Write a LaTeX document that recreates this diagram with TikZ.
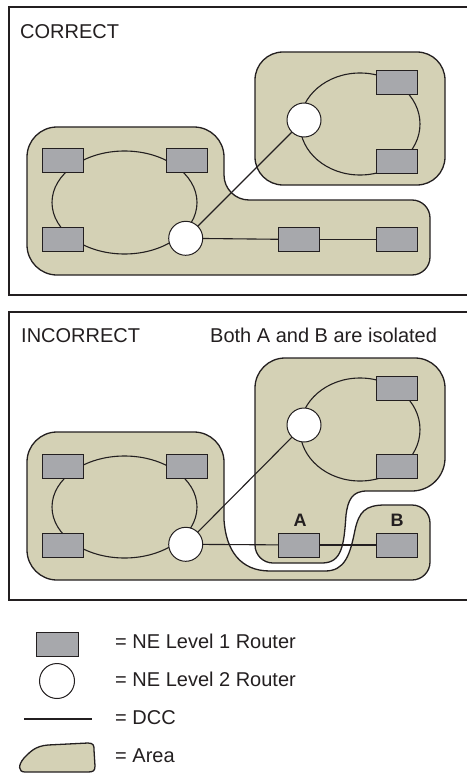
\documentclass[tikz,border=0pt]{standalone}
\usepackage{fontspec}
\setmainfont{Liberation Sans}
\definecolor{areafill}{HTML}{D4D1B5}
\definecolor{rtrgray}{HTML}{A7A8AC}
\definecolor{lineclr}{HTML}{231F20}
\tikzset{
 area/.style={fill=areafill, draw=lineclr, line width=1.3pt},
 ring/.style={draw=lineclr, line width=1.1pt},
 dcc/.style={draw=lineclr, line width=1.1pt},
 ne1/.style={draw=lineclr, fill=rtrgray, line width=1pt, minimum width=41pt, minimum height=24pt, inner sep=0pt},
 ne2/.style={circle, draw=lineclr, fill=white, line width=1pt, minimum size=34pt, inner sep=0pt},
 frame/.style={draw=lineclr, line width=2.2pt},
 lbl/.style={font=\fontsize{20}{24}\selectfont, text=lineclr, inner sep=0pt, anchor=base west},
 boldlbl/.style={font=\fontsize{18}{22}\selectfont\bfseries, text=lineclr, inner sep=0pt, anchor=base}
}
\begin{document}
\begin{tikzpicture}[x=1pt,y=-1pt]
\useasboundingbox (0,0) rectangle (466,773);
% ===== frames =====
\draw[frame] (470,7) -- (9,7) -- (9,295) -- (470,295);
\draw[frame] (470,312) -- (9,312) -- (9,600) -- (470,600);
\node[lbl] (tcorrect) at (20,39) {CORRECT};
\node[lbl] (tincorrect) at (21,342) {INCORRECT};
\node[lbl] (tiso) at (210,342) {Both A and B are isolated};

% ===== CORRECT panel =====
\path[area] (27,157) arc(180:270:30) -- (194,127) arc(270:360:30) -- (224,175)
  arc(180:90:25) -- (412,200) arc(270:360:18) -- (430,257) arc(0:90:18)
  -- (57,275) arc(90:180:30) -- cycle;
\path[area, rounded corners=28pt] (255,52) rectangle (445,185);
\draw[ring] (124.5,202.5) ellipse [x radius=72.5, y radius=51.5];
\draw[ring] (360,124) ellipse [x radius=60, y radius=51];
\node[ne1] (a1) at (62.5,160.5) {};
\node[ne1] (a2) at (186.5,160.5) {};
\node[ne1] (a3) at (62.5,239.5) {};
\node[ne2] (ac1) at (185.7,238.3) {};
\node[ne1] (a4) at (299,239.5) {};
\node[ne1] (a5) at (396.5,239.5) {};
\node[ne2] (ac2) at (304,120) {};
\node[ne1] (a6) at (396.5,82.5) {};
\node[ne1] (a7) at (396.5,161) {};
\draw[dcc] (ac1) -- (a4);
\draw[dcc] (a4) -- (a5);
\draw[dcc] (ac1) -- (ac2);

% ===== INCORRECT panel =====
\path[area] (27,462) arc(180:270:30) -- (194,432) arc(270:360:30) -- (224,520)
  .. controls (226,550) and (240,571) .. (270,571) -- (325,571)
  .. controls (345,571) and (350,555) .. (355,530)
  .. controls (359,512) and (365,505) .. (385,505)
  -- (412,505) arc(270:360:18) -- (430,562) arc(0:90:18)
  -- (57,580) arc(90:180:30) -- cycle;
\path[area] (255,388) arc(180:270:30) -- (415,358) arc(270:360:30) -- (445,458)
  arc(0:90:33) -- (367,491)
  .. controls (352,491) and (348,500) .. (346,515)
  .. controls (344,545) and (342,563) .. (322,563)
  -- (273,563) arc(90:180:18) -- cycle;
\draw[ring] (124.5,507) ellipse [x radius=72.5, y radius=51];
\draw[ring] (360,429.5) ellipse [x radius=60, y radius=51.5];
\node[ne1] (b1) at (62.5,466) {};
\node[ne1] (b2) at (186.5,466) {};
\node[ne1] (b3) at (62.5,545) {};
\node[ne2] (bc1) at (185.7,544.3) {};
\node[ne1] (bA) at (299,545) {};
\node[ne1] (bB) at (396.5,545) {};
\node[ne2] (bc2) at (304,425) {};
\node[ne1] (b6) at (396.5,388) {};
\node[ne1] (b7) at (396.5,466) {};
\node[boldlbl] (lA) at (300,526) {A};
\node[boldlbl] (lB) at (397,526) {B};
\draw[dcc] (bc1) -- (bA);
\draw[dcc] (bA) -- (bB);
\draw[dcc] (bc1) -- (bc2);

% ===== legend =====
\node[ne1, minimum width=42pt] (k1) at (57,644) {};
\node[ne2, minimum size=35pt] (k2) at (57,681) {};
\coordinate (k3a) at (24,719);
\coordinate (k3b) at (92,719);
\draw[dcc] (k3a) -- (k3b);
\path[area] (25,772) .. controls (18,772) and (18,765) .. (24,758)
  .. controls (30,752) and (35,746) .. (48,745) -- (88,743)
  .. controls (94,743) and (94,746) .. (94,750) -- (95,766)
  .. controls (95,771) and (93,772) .. (88,772) -- cycle;
\node[lbl] (t1) at (115,648) {= NE Level 1 Router};
\node[lbl] (t2) at (115,686) {= NE Level 2 Router};
\node[lbl] (t3) at (115,724) {= DCC};
\node[lbl] (t4) at (115,762) {= Area};
\end{tikzpicture}
\end{document}
